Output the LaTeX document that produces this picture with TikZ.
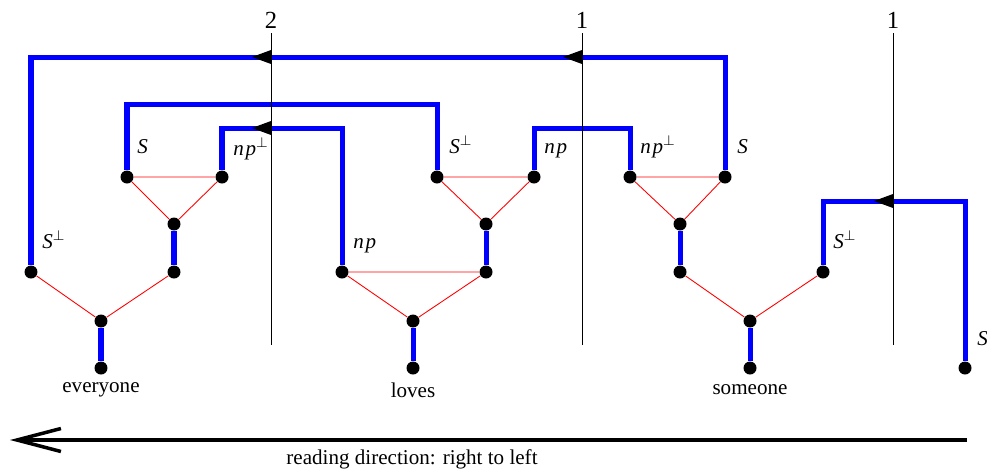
\documentclass[tikz,border=0pt]{standalone}
\usepackage{fontspec}
\setmainfont{Liberation Serif}
\usetikzlibrary{arrows.meta}
\tikzstyle{vertex} = [circle, fill=black, inner sep=0pt, minimum size=0.26cm]
\tikzstyle{axiom} = [blue, line width=2.85pt]
\tikzstyle{link} = [red, line width=0.5pt]
\tikzstyle{boundary} = [black, line width=0.5pt]
\tikzstyle{tag} = [anchor=base west, inner sep=0pt]
\tikzstyle{count} = [anchor=south, inner sep=0pt, outer sep=2.5pt, font=\fontsize{14}{16}\selectfont]
\tikzstyle{reading} = [black, line width=2pt, -{Straight Barb[length=0.88cm,width=0.46cm]}]
\newcommand{\flowtip}[2]{\fill (#1,#2-7) -- (#1-19,#2) -- (#1,#2+7) -- cycle;}

\begin{document}
\begin{tikzpicture}[x=0.02cm, y=-0.02cm, font=\fontsize{12}{14}\selectfont]
            \useasboundingbox (0,0) rectangle (987,474);

            % everyone
            \node[vertex]   (e0)    at (101, 368)   {};
            \node[vertex]   (e1)    at (101, 321)   {};
            \node[vertex]   (eL)    at ( 31, 272)   {};
            \node[vertex]   (eR)    at (174, 272)   {};
            \node[vertex]   (eT)    at (174, 224)   {};
            \node[vertex]   (eTL)   at (127, 177)   {};
            \node[vertex]   (eTR)   at (222, 177)   {};
            \node           (w1)    at (101, 390)   {everyone};

            % loves
            \node[vertex]   (l0)    at (413, 368)   {};
            \node[vertex]   (l1)    at (413, 321)   {};
            \node[vertex]   (lL)    at (342, 272)   {};
            \node[vertex]   (lR)    at (486, 272)   {};
            \node[vertex]   (lT)    at (486, 224)   {};
            \node[vertex]   (lTL)   at (437, 177)   {};
            \node[vertex]   (lTR)   at (534, 177)   {};
            \node           (w2)    at (413, 390)   {loves};

            % someone
            \node[vertex]   (s0)    at (750, 368)   {};
            \node[vertex]   (s1)    at (750, 321)   {};
            \node[vertex]   (sL)    at (680, 272)   {};
            \node[vertex]   (sR)    at (823, 272)   {};
            \node[vertex]   (sT)    at (680, 224)   {};
            \node[vertex]   (sTL)   at (630, 177)   {};
            \node[vertex]   (sTR)   at (725, 177)   {};
            \node           (w3)    at (750, 390)   {someone};

            % conclusion
            \node[vertex]   (r0)    at (965, 368)   {};

            % formula labels
            \node[tag]      (t1)    at (137, 153)   {\textit{S}};
            \node[tag]      (t2)    at (233, 155)   {\textit{n\kern1pt p}$^{\perp}$};
            \node[tag]      (t3)    at ( 42, 248)   {\textit{S}$^{\perp}$};
            \node[tag]      (t4)    at (353, 248)   {\textit{n\kern1pt p}};
            \node[tag]      (t5)    at (449, 153)   {\textit{S}$^{\perp}$};
            \node[tag]      (t6)    at (544, 153)   {\textit{n\kern1pt p}};
            \node[tag]      (t7)    at (640, 153)   {\textit{n\kern1pt p}$^{\perp}$};
            \node[tag]      (t8)    at (737, 153)   {\textit{S}};
            \node[tag]      (t9)    at (833, 248)   {\textit{S}$^{\perp}$};
            \node[tag]      (t10)   at (977, 345)   {\textit{S}};

            % links
            \draw[link] (eL) -- (e1) -- (eR);
            \draw[link] (eTL) -- (eT) -- (eTR) -- (eTL);
            \draw[link] (lL) -- (l1) -- (lR) -- (lL);
            \draw[link] (lTL) -- (lT) -- (lTR) -- (lTL);
            \draw[link] (sL) -- (s1) -- (sR);
            \draw[link] (sTL) -- (sT) -- (sTR) -- (sTL);

            % axioms
            \coordinate (h1) at (0,  57);
            \coordinate (h2) at (0, 104);
            \coordinate (h3) at (0, 128);
            \coordinate (h4) at (0, 201);

            \draw[axiom] (e0) -- (e1);
            \draw[axiom] (eR) -- (eT);
            \draw[axiom] (l0) -- (l1);
            \draw[axiom] (lR) -- (lT);
            \draw[axiom] (s0) -- (s1);
            \draw[axiom] (sL) -- (sT);
            \draw[axiom] (eL) -- (eL |- h1) -| (sTR);
            \draw[axiom] (eTL) -- (eTL |- h2) -| (lTL);
            \draw[axiom] (eTR) -- (eTR |- h3) -| (lL);
            \draw[axiom] (lTR) -- (lTR |- h3) -| (sTL);
            \draw[axiom] (sR) -- (sR |- h4) -| (r0);

            % cuts
            \node[count]    (c1)    at (271, 33)    {2};
            \node[count]    (c2)    at (582, 33)    {1};
            \node[count]    (c3)    at (893, 33)    {1};
            \coordinate (c1b) at (271, 345);
            \coordinate (c2b) at (582, 345);
            \coordinate (c3b) at (893, 345);
            \draw[boundary] (c1) -- (c1b);
            \draw[boundary] (c2) -- (c2b);
            \draw[boundary] (c3) -- (c3b);

            \flowtip{271}{57}
            \flowtip{582}{57}
            \flowtip{271}{128}
            \flowtip{893}{201}

            % reading direction
            \coordinate (rs) at (967, 440);
            \coordinate (re) at ( 10, 440);
            \draw[reading] (rs) -- (re);
            \node           (rd)    at (412, 459)   {reading direction: right to left};
        \end{tikzpicture}
\end{document}
